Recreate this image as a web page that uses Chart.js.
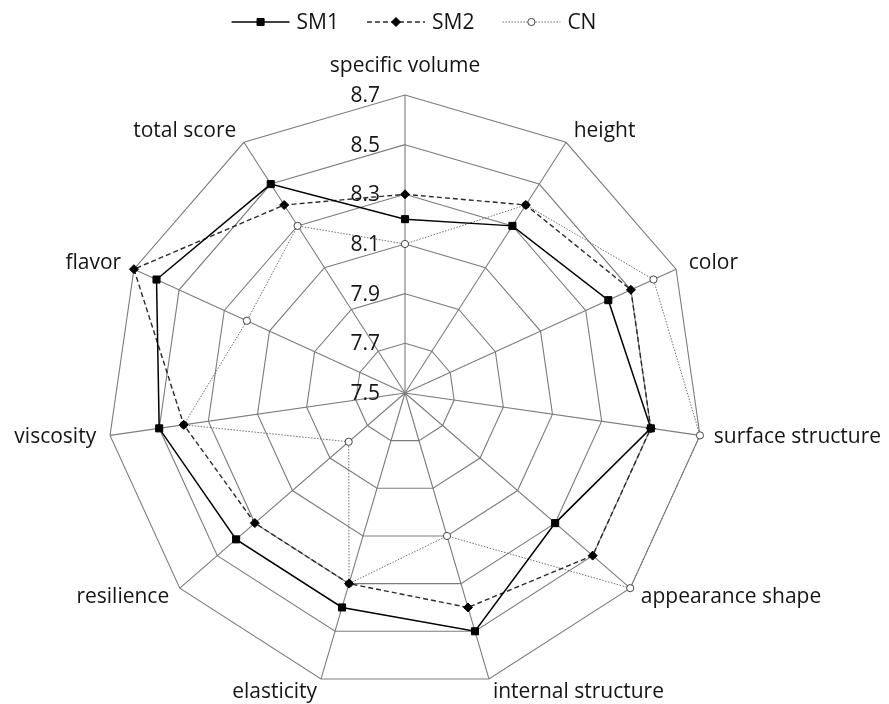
<!DOCTYPE html>
<html>
<head>
<meta charset="utf-8">
<script src="https://cdn.jsdelivr.net/npm/chart.js@4/dist/chart.umd.min.js"></script>
<style>
  html, body { margin: 0; padding: 0; background: #fff; }
  #wrap { width: 889px; height: 704px; position: relative; }
</style>
</head>
<body>
<div id="wrap"><canvas id="c"></canvas></div>
<script>
// ---- data ----
const categories = ['specific volume', 'height', 'color', 'surface structure', 'appearance shape',
  'internal structure', 'elasticity', 'resilience', 'viscosity', 'flavor', 'total score'];
const seriesNames = ['SM1', 'SM2', 'CN'];
const sm1 = [8.2, 8.3, 8.4, 8.5, 8.3, 8.5, 8.4, 8.4, 8.5, 8.6, 8.5];
const sm2 = [8.3, 8.4, 8.5, 8.5, 8.5, 8.4, 8.3, 8.3, 8.4, 8.7, 8.4];
const cn  = [8.1, 8.4, 8.6, 8.7, 8.7, 8.1, 8.3, 7.8, 8.4, 8.2, 8.3];
const tickValues = [7.5, 7.7, 7.9, 8.1, 8.3, 8.5, 8.7];
const tickLabels = ['7.5', '7.7', '7.9', '8.1', '8.3', '8.5', '8.7'];

// ---- styles ----
const FONT = '"Open Sans", "Noto Sans", sans-serif';
const FS = 21;
const TEXT = '#151515';
const GRID = '#7c7c7c';
const styles = [
  { color: '#000', width: 1.5, dash: [], point: 'rect', radius: 5, fill: '#000', pborder: '#000' },
  { color: '#2a2a2a', width: 1.4, dash: [5, 3], point: 'rectRot', radius: 4.5, fill: '#000', pborder: '#000' },
  { color: '#6e6e6e', width: 1, dash: [1.5, 1.5], point: 'circle', radius: 3.6, fill: '#fff', pborder: '#444' }
];
const values = [sm1, sm2, cn];

const datasets = values.map((v, i) => ({
  label: seriesNames[i],
  data: v,
  borderColor: styles[i].color,
  borderWidth: styles[i].width,
  borderDash: styles[i].dash,
  fill: false,
  tension: 0,
  pointStyle: styles[i].point,
  pointRadius: styles[i].radius,
  pointHoverRadius: styles[i].radius,
  pointBackgroundColor: styles[i].fill,
  pointBorderColor: styles[i].pborder,
  pointBorderWidth: 1
}));

function drawMarker(ctx, st, x, y) {
  Chart.helpers.drawPoint(ctx, { pointStyle: st.point, radius: st.radius, borderWidth: 1 }, x, y);
}

const decor = {
  id: 'decor',
  afterDraw(chart) {
    const ctx = chart.ctx;
    const s = chart.scales.r;
    ctx.save();
    ctx.font = FS + 'px ' + FONT;
    ctx.fillStyle = TEXT;
    // category labels
    categories.forEach((lab, i) => {
      const p = s.getPointPosition(i, s.drawingArea + 14);
      const dx = p.x - s.xCenter;
      let align = 'center';
      if (dx > 2) align = 'left';
      else if (dx < -2) align = 'right';
      let y = p.y;
      if (Math.abs(dx) <= 2 && p.y < s.yCenter) y -= 15;
      ctx.textAlign = align;
      ctx.textBaseline = 'middle';
      ctx.fillText(lab, p.x, y);
    });
    // tick labels
    ctx.textAlign = 'right';
    ctx.textBaseline = 'middle';
    tickValues.forEach((v, i) => {
      const d = s.getDistanceFromCenterForValue(v);
      ctx.fillText(tickLabels[i], s.xCenter - 25, s.yCenter - d + 1);
    });
    // legend
    const lineLen = 58, gapText = 7, gapItem = 28, ly = 22;
    const widths = seriesNames.map(t => ctx.measureText(t).width);
    let total = 0;
    widths.forEach(w => total += lineLen + gapText + w);
    total += gapItem * (seriesNames.length - 1);
    let x = 414 - total / 2;
    seriesNames.forEach((name, i) => {
      const st = styles[i];
      ctx.save();
      ctx.strokeStyle = st.color;
      ctx.lineWidth = st.width;
      ctx.setLineDash(st.dash);
      ctx.beginPath();
      ctx.moveTo(x, ly);
      ctx.lineTo(x + lineLen, ly);
      ctx.stroke();
      ctx.setLineDash([]);
      ctx.fillStyle = st.fill;
      ctx.strokeStyle = st.pborder;
      ctx.lineWidth = 1;
      drawMarker(ctx, st, x + lineLen / 2, ly);
      ctx.restore();
      ctx.fillStyle = TEXT;
      ctx.textAlign = 'left';
      ctx.fillText(name, x + lineLen + gapText, ly + 1);
      x += lineLen + gapText + widths[i] + gapItem;
    });
    ctx.restore();
  }
};

new Chart(document.getElementById('c'), {
  type: 'radar',
  data: { labels: categories, datasets: datasets },
  options: {
    responsive: true,
    maintainAspectRatio: false,
    animation: false,
    layout: { padding: { left: 107, right: 186, top: 95, bottom: 13 } },
    plugins: { legend: { display: false }, tooltip: { enabled: false } },
    elements: { line: { borderJoinStyle: 'miter' } },
    scales: {
      r: {
        min: 7.5,
        max: 8.7,
        startAngle: 0,
        ticks: { stepSize: 0.2, display: false },
        grid: { color: GRID, lineWidth: 1.1 },
        angleLines: { color: GRID, lineWidth: 1.1 },
        pointLabels: { display: false }
      }
    }
  },
  plugins: [decor]
});
</script>
</body>
</html>
